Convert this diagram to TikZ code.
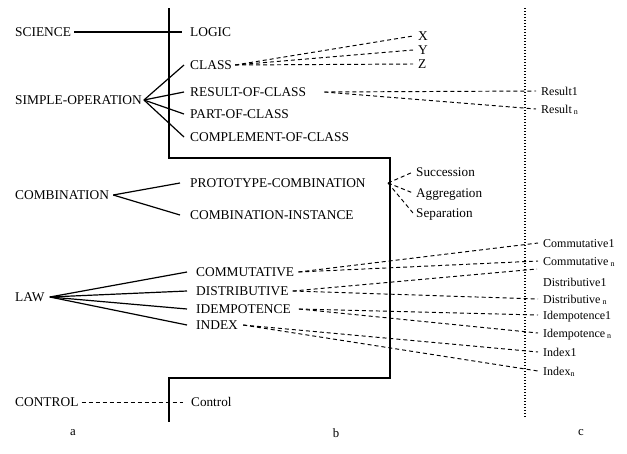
\documentclass[tikz,border=0pt]{standalone}
\usepackage{fontspec}
\setmainfont{Liberation Serif}
\begin{document}
\begin{tikzpicture}[x=1pt,y=-1pt,
  lbl/.style={anchor=west,inner sep=0pt,text height=8.8pt,text depth=0pt,font=\fontsize{13.4}{15}\selectfont},
  lbls/.style={anchor=west,inner sep=0pt,text height=8.6pt,text depth=0pt,font=\fontsize{13.2}{15}\selectfont},
  lblc/.style={anchor=west,inner sep=0pt,text height=8.2pt,text depth=0pt,font=\fontsize{12}{14}\selectfont},
  letter/.style={inner sep=0pt,font=\fontsize{12.8}{15}\selectfont},
  solidline/.style={line width=1.2pt},
  dashline/.style={line width=0.95pt,dash pattern=on 4pt off 3pt},
  dotline/.style={line width=1.2pt,dash pattern=on 1.2pt off 1.8pt}]
\useasboundingbox (0,0) rectangle (627,453);

% structural lines
\draw[solidline] (169,8) -- (169,158) -- (390,158) -- (390,378) -- (169,378) -- (169,422);
\draw[dotline] (525,8) -- (525,418);

% column a
\node[lbl] (science) at (15,32) {SCIENCE};
\node[lbl] (simpleop) at (15,100) {SIMPLE-OPERATION};
\node[lbl] (combination) at (15,195) {COMBINATION};
\node[lbl] (law) at (15,297) {LAW};
\node[lbl] (control) at (15,402) {CONTROL};

% column b
\node[lbl] (logic) at (190,32) {LOGIC};
\node[lbl] (class) at (190,65) {CLASS};
\node[lbl] (result) at (190,92) {RESULT-OF-CLASS};
\node[lbl] (part) at (190,114) {PART-OF-CLASS};
\node[lbl] (complement) at (190,137) {COMPLEMENT-OF-CLASS};
\node[lbl] (proto) at (190,183) {PROTOTYPE-COMBINATION};
\node[lbl] (instance) at (190,215) {COMBINATION-INSTANCE};
\node[lbl] (commutative) at (196,272) {COMMUTATIVE};
\node[lbl] (distributive) at (196,291) {DISTRIBUTIVE};
\node[lbl] (idempotence) at (196,309) {IDEMPOTENCE};
\node[lbl] (index) at (196,325) {INDEX};
\node[lbls] (controlc) at (191,402) {Control};

% X Y Z
\node[lbl] (nx) at (418,36) {X};
\node[lbl] (ny) at (418,50) {Y};
\node[lbl] (nz) at (418,64) {Z};

% combination kinds
\node[lbls] (succ) at (416,172) {Succession};
\node[lbls] (aggr) at (416,193) {Aggregation};
\node[lbls] (sepa) at (416,213) {Separation};

% column c
\node[lblc] (res1) at (541,91) {Result1};
\node[lblc] (resn) at (541,109) {Result\,\textsubscript{n}};
\node[lblc] (comm1) at (543,243) {Commutative1};
\node[lblc] (commn) at (543,261) {Commutative\,\textsubscript{n}};
\node[lblc] (dist1) at (543,282) {Distributive1};
\node[lblc] (distn) at (543,299) {Distributive\,\textsubscript{n}};
\node[lblc] (idem1) at (543,315) {Idempotence1};
\node[lblc] (idemn) at (543,333) {Idempotence\,\textsubscript{n}};
\node[lblc] (index1) at (543,352) {Index1};
\node[lblc] (indexn) at (543,371) {Index\textsubscript{n}};

% bottom letters
\node[letter] (la) at (73,433) {a};
\node[letter] (lb) at (336,433) {b};
\node[letter] (lc) at (581,433) {c};

\coordinate (pc) at (388,183);
\coordinate (d1end) at (537,269);

% solid connectors
\draw[solidline] ([xshift=3pt]science.east) -- ([xshift=-8pt]logic.west);
\foreach \t in {class,result,part,complement}
  \draw[solidline] ([xshift=2pt]simpleop.east) -- ([xshift=-6pt]\t.west);
\foreach \t in {proto,instance}
  \draw[solidline] ([xshift=4pt]combination.east) -- ([xshift=-10pt]\t.west);
\foreach \t in {commutative,distributive,idempotence,index}
  \draw[solidline] ([xshift=5pt]law.east) -- ([xshift=-9pt]\t.west);

% dashed connectors
\foreach \t in {nx,ny,nz}
  \draw[dashline] ([xshift=3pt]class.east) -- ([xshift=-5pt]\t.west);
\foreach \t in {res1,resn}
  \draw[dashline] ([xshift=18pt]result.east) -- ([xshift=-5pt]\t.west);
\foreach \t in {succ,aggr,sepa}
  \draw[dashline] (pc) -- ([xshift=-3pt]\t.west);
\foreach \t in {comm1,commn}
  \draw[dashline] ([xshift=4pt]commutative.east) -- ([xshift=-5pt]\t.west);
\draw[dashline] ([xshift=4pt]distributive.east) -- (d1end);
\draw[dashline] ([xshift=4pt]distributive.east) -- ([xshift=-5pt]distn.west);
\foreach \t in {idem1,idemn}
  \draw[dashline] ([xshift=8pt]idempotence.east) -- ([xshift=-5pt]\t.west);
\foreach \t in {index1,indexn}
  \draw[dashline] ([xshift=5pt]index.east) -- ([xshift=-5pt]\t.west);
\draw[dashline] ([xshift=3pt]control.east) -- ([xshift=-8pt]controlc.west);
\end{tikzpicture}
\end{document}
